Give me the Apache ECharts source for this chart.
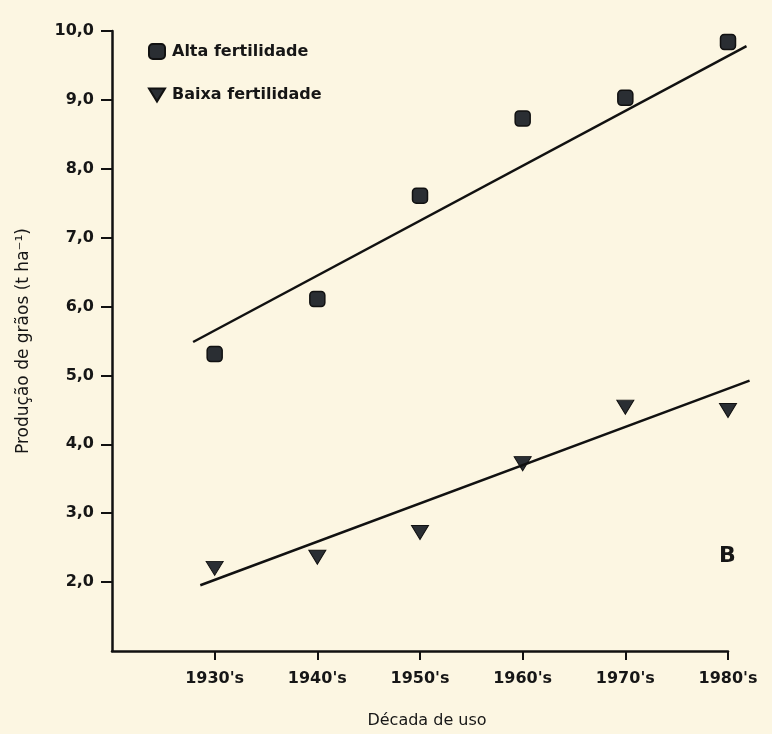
<!DOCTYPE html>
<html>
<head>
<meta charset="utf-8">
<script src="https://cdn.jsdelivr.net/npm/echarts@6/dist/echarts.min.js"></script>
<style>
html,body{margin:0;padding:0;background:#fcf6e2;}
#chart{width:772px;height:734px;}
</style>
</head>
<body>
<div id="chart"></div>
<script>
// ---- data ----
var decades = [1930, 1940, 1950, 1960, 1970, 1980];
var altaFertilidade = [5.31, 6.11, 7.61, 8.73, 9.03, 9.84];
var baixaFertilidade = [2.20, 2.36, 2.72, 3.72, 4.54, 4.49];
// fitted lines as drawn (end points)
var altaLineX = [1927.9, 1981.8];
var altaLineY = [5.50, 9.78];
var baixaLineX = [1928.6, 1982.1];
var baixaLineY = [1.98, 4.94];
// tick labels
var xTickValues = [1930, 1940, 1950, 1960, 1970, 1980];
var xTickLabels = ["1930's", "1940's", "1950's", "1960's", "1970's", "1980's"];
var yTickValues = [2, 3, 4, 5, 6, 7, 8, 9, 10];
var yTickLabels = ["2,0", "3,0", "4,0", "5,0", "6,0", "7,0", "8,0", "9,0", "10,0"];
var seriesNames = ["Alta fertilidade", "Baixa fertilidade"];

var FONT = "DejaVu Sans";
var INK = "#161616";
var MARK = "#2a2e33";
var triPath = "path://M0,0 L16,0 L8,13 Z";

function zip(xs, ys) { return xs.map(function (x, i) { return [x, ys[i]]; }); }

// main grid: axes end at 1980 / 10,0 ; overlay grid (same scale) lets the fitted lines run past 1980
var GL = 112, GR = 44, GT = 31, GB = 81, PLOT_W = 772 - GL - GR;
var pxPerYear = PLOT_W / 60;
var overlayRight = 22;
var overlayMax = 1920 + (772 - GL - overlayRight) / pxPerYear;

var chart = echarts.init(document.getElementById('chart'), null, {renderer: 'canvas'});
chart.setOption({
  backgroundColor: '#fcf6e2',
  animation: false,
  grid: [
    {left: GL, right: GR, top: GT, bottom: GB},
    {left: GL, right: overlayRight, top: GT, bottom: GB}
  ],
  legend: {
    data: [
      {name: seriesNames[0], icon: 'roundRect'},
      {name: seriesNames[1], icon: triPath}
    ],
    orient: 'vertical',
    left: 143, top: 38,
    itemWidth: 16, itemHeight: 15, itemGap: 27,
    textStyle: {fontFamily: FONT, fontSize: 16, fontWeight: 'bold', color: INK, padding: [0, 0, 0, 2]},
    selectedMode: false
  },
  xAxis: [{
    type: 'value', min: 1920, max: 1980, interval: 10,
    name: 'Década de uso', nameLocation: 'middle', nameGap: 62,
    nameTextStyle: {fontFamily: FONT, fontSize: 16, color: INK, padding: [0, 0, 0, 14]},
    axisLine: {show: true, lineStyle: {color: '#111', width: 2.5}},
    axisTick: {show: true, length: 9, lineStyle: {color: '#111', width: 2}, customValues: xTickValues},
    axisLabel: {
      fontFamily: FONT, fontSize: 16, fontWeight: 'bold', color: INK, margin: 20,
      customValues: xTickValues,
      formatter: function (v) { var i = xTickValues.indexOf(v); return i >= 0 ? xTickLabels[i] : ''; }
    },
    splitLine: {show: false}
  }, {
    gridIndex: 1, type: 'value', min: 1920, max: overlayMax, show: false
  }],
  yAxis: [{
    type: 'value', min: 1, max: 10, interval: 1,
    name: 'Produção de grãos (t ha⁻¹)', nameLocation: 'middle', nameGap: 80, nameRotate: 90,
    nameTextStyle: {fontFamily: FONT, fontSize: 17, color: INK},
    axisLine: {show: true, lineStyle: {color: '#111', width: 2.5}},
    axisTick: {show: true, length: 11, lineStyle: {color: '#111', width: 2}, customValues: yTickValues},
    axisLabel: {
      fontFamily: FONT, fontSize: 16, fontWeight: 'bold', color: INK, margin: 18,
      customValues: yTickValues,
      formatter: function (v) { var i = yTickValues.indexOf(v); return i >= 0 ? yTickLabels[i] : ''; }
    },
    splitLine: {show: false}
  }, {
    gridIndex: 1, type: 'value', min: 1, max: 10, show: false
  }],
  series: [
    {
      name: seriesNames[0], type: 'scatter',
      data: zip(decades, altaFertilidade),
      symbol: 'roundRect', symbolSize: 15,
      itemStyle: {color: MARK, borderColor: '#111', borderWidth: 1.5, opacity: 1}
    },
    {
      name: seriesNames[1], type: 'scatter',
      data: zip(decades, baixaFertilidade),
      symbol: triPath, symbolSize: [17, 14],
      itemStyle: {color: MARK, borderColor: '#111', borderWidth: 1, opacity: 1}
    },
    {
      name: 'altaLine', type: 'line', xAxisIndex: 1, yAxisIndex: 1,
      data: zip(altaLineX, altaLineY),
      symbol: 'none', silent: true,
      lineStyle: {color: '#111', width: 2.5}
    },
    {
      name: 'baixaLine', type: 'line', xAxisIndex: 1, yAxisIndex: 1,
      data: zip(baixaLineX, baixaLineY),
      symbol: 'none', silent: true,
      lineStyle: {color: '#111', width: 2.5}
    }
  ],
  graphic: [
    {type: 'text', left: 719, top: 545, style: {text: 'B', fontFamily: FONT, fontSize: 22, fontWeight: 'bold', fill: INK}}
  ]
});
</script>
</body>
</html>
